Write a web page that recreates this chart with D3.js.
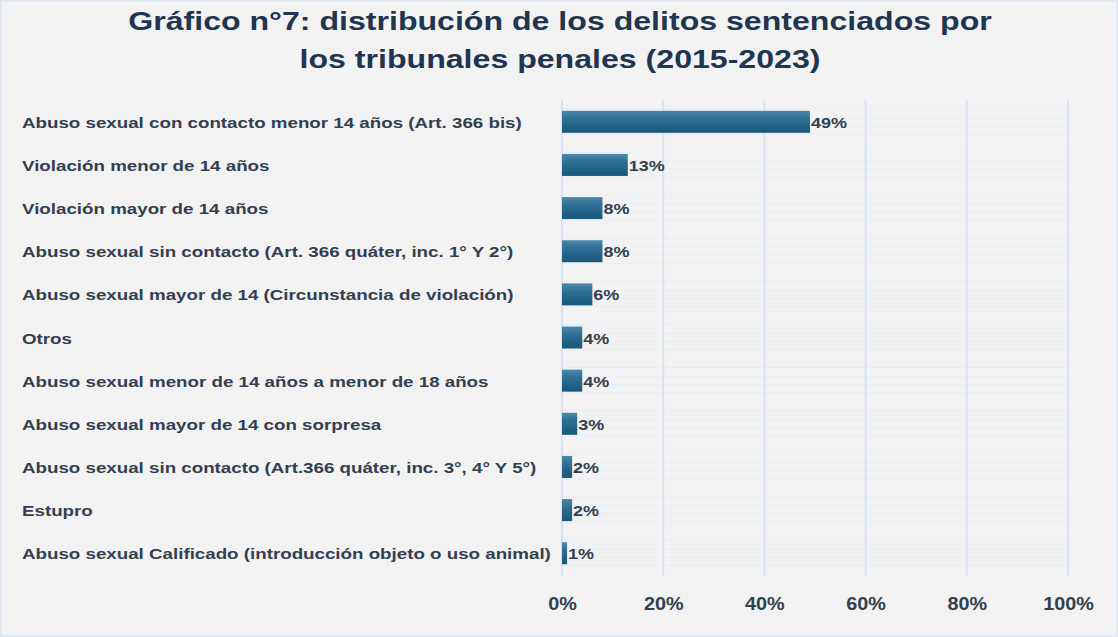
<!DOCTYPE html>
<html>
<head>
<meta charset="utf-8">
<script src="https://cdn.jsdelivr.net/npm/d3@7"></script>
<style>
  body { margin: 0; background: #f2f2f2; }
  svg { display: block; }
  .title { font-family: "Liberation Sans", Arial, sans-serif; font-weight: bold; font-size: 26px; fill: #1f3550; }
  .cat { font-family: "Liberation Sans", Arial, sans-serif; font-weight: bold; font-size: 15.5px; fill: #333f50; }
  .val { font-family: "Liberation Sans", Arial, sans-serif; font-weight: bold; font-size: 15px; fill: #333f50; }
  .axis text { font-family: "Liberation Sans", Arial, sans-serif; font-weight: bold; font-size: 18px; fill: #333f50; }
</style>
</head>
<body>
<svg id="chart" width="1118" height="637"></svg>
<script>
const categories = [
  "Abuso sexual con contacto menor 14 años (Art. 366 bis)",
  "Violación menor de 14 años",
  "Violación mayor de 14 años",
  "Abuso sexual sin contacto (Art. 366 quáter, inc. 1° Y 2°)",
  "Abuso sexual mayor de 14 (Circunstancia de violación)",
  "Otros",
  "Abuso sexual menor de 14 años a menor de 18 años",
  "Abuso sexual mayor de 14 con sorpresa",
  "Abuso sexual sin contacto (Art.366 quáter, inc. 3°, 4° Y 5°)",
  "Estupro",
  "Abuso sexual Calificado (introducción objeto o uso animal)"
]
const values = [0.49, 0.13, 0.08, 0.08, 0.06, 0.04, 0.04, 0.03, 0.02, 0.02, 0.01]
const valueLabels = ["49%", "13%", "8%", "8%", "6%", "4%", "4%", "3%", "2%", "2%", "1%"]
const ticks = [0, 0.2, 0.4, 0.6, 0.8, 1.0]
const titleLines = ["Gráfico n°7: distribución de los delitos sentenciados por", "los tribunales penales (2015-2023)"]

const W = 1118, H = 637
const svg = d3.select("#chart")

// background + thin border
svg.append("rect").attr("x", 0.5).attr("y", 0.5).attr("width", W - 1).attr("height", H - 1)
  .attr("fill", "#f2f2f2").attr("stroke", "#dde5f0").attr("stroke-width", 2)

const defs = svg.append("defs")
const grad = defs.append("linearGradient").attr("id", "barGrad").attr("x1", 0).attr("y1", 0).attr("x2", 0).attr("y2", 1)
grad.append("stop").attr("offset", "0%").attr("stop-color", "#4d8aac")
grad.append("stop").attr("offset", "35%").attr("stop-color", "#2f6f95")
grad.append("stop").attr("offset", "100%").attr("stop-color", "#175779")

const xScale = d3.scaleLinear().domain([0, 1]).range([562, 1068])
const yScale = d3.scaleBand().domain(categories).range([100, 575]).paddingInner(0.49).paddingOuter(0.25)

// title (text in the source is stretched horizontally)
svg.selectAll(".title").data(titleLines).join("text")
  .attr("class", "title")
  .attr("transform", (d, i) => `translate(560,${30 + i * 38}) scale(1.235,1)`)
  .attr("text-anchor", "middle")
  .text(d => d)

// faint horizontal lines around each row
const band = yScale.bandwidth()
const g = svg.append("g")
categories.forEach(c => {
  const cy = yScale(c) + band / 2
  ;[-13, -4, 4, 12].forEach(o => {
    g.append("line")
      .attr("x1", xScale(0)).attr("x2", xScale(1))
      .attr("y1", cy + o).attr("y2", cy + o)
      .attr("stroke", "#e8ecf6").attr("stroke-width", 1)
  })
})

// vertical gridlines
svg.append("g").selectAll("line").data(ticks).join("line")
  .attr("x1", d => xScale(d)).attr("x2", d => xScale(d))
  .attr("y1", 100).attr("y2", 576)
  .attr("stroke", "#d6e2f4").attr("stroke-width", 2)

// bars
svg.append("g").selectAll("rect").data(values).join("rect")
  .attr("x", xScale(0))
  .attr("y", (d, i) => yScale(categories[i]))
  .attr("width", d => xScale(d) - xScale(0))
  .attr("height", band)
  .attr("fill", "url(#barGrad)")

// value labels
svg.append("g").selectAll("text").data(values).join("text")
  .attr("class", "val")
  .attr("transform", (d, i) => `translate(${xScale(d) + 1},${yScale(categories[i]) + band / 2 + 6}) scale(1.2,1)`)
  .text((d, i) => valueLabels[i])

// category labels
svg.append("g").selectAll("text").data(categories).join("text")
  .attr("class", "cat")
  .attr("transform", d => `translate(22,${yScale(d) + band / 2 + 6}) scale(1.21,1)`)
  .text(d => d)

// x axis
const xAxis = d3.axisBottom(xScale).tickValues(ticks).tickFormat(d3.format(".0%")).tickSize(0).tickPadding(0)
svg.append("g").attr("class", "axis")
  .attr("transform", "translate(0,597)")
  .call(xAxis)
  .call(a => a.select(".domain").remove())
  .call(a => a.selectAll("text").attr("transform", "scale(1.1,1)"))
</script>
</body>
</html>
